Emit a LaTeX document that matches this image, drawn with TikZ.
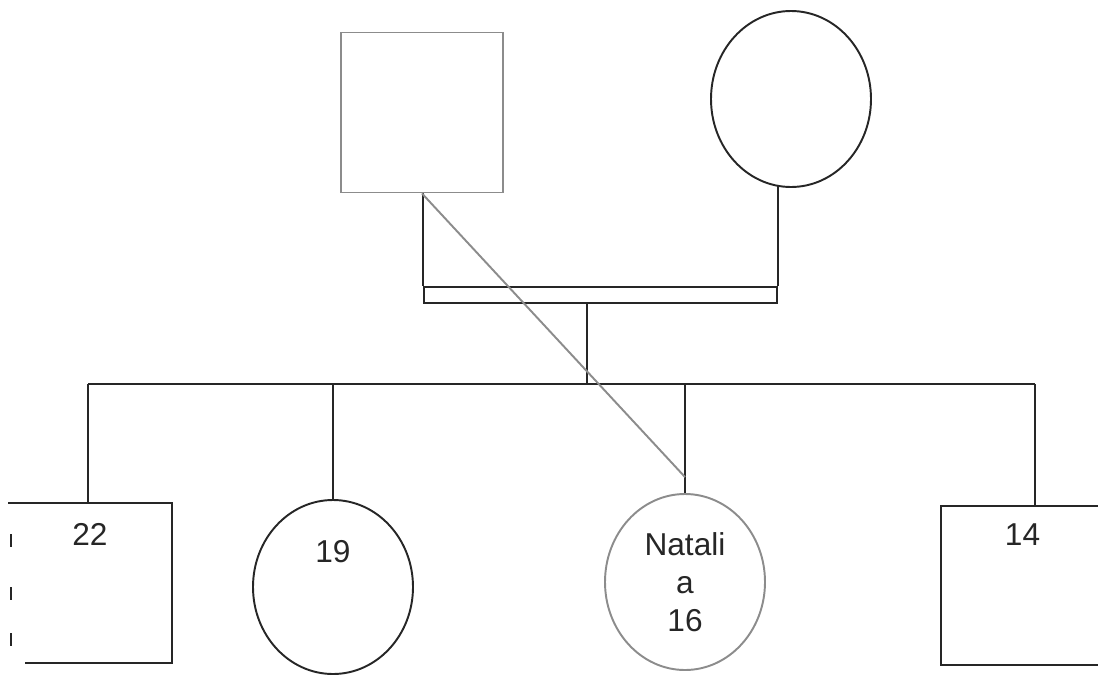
\documentclass[tikz,border=0pt]{standalone}
\usepackage{fontspec}
\setmainfont{Liberation Sans}
\usepackage{tikz}
\usetikzlibrary{positioning, calc, shapes.geometric}
\definecolor{inkline}{gray}{0.15}
\definecolor{paleline}{gray}{0.55}

\begin{document}
\begin{tikzpicture}[
  every node/.style={font=\fontsize{18}{21}\selectfont},
  male/.style={draw=inkline, line width=1.1pt, rectangle, minimum width=3.24cm, minimum height=3.2cm},
  female/.style={draw=inkline, line width=1.1pt, ellipse, minimum width=3.2cm, minimum height=3.5cm},
  ghost/.style={rectangle, minimum width=3.26cm, minimum height=3.18cm},
  pale/.style={draw=paleline},
  tie/.style={draw=inkline, line width=1.1pt},
  age/.style={inner sep=0pt, text=inkline}
]
  \clip (0,0) rectangle (21.96,-13.5);

  \node[male, pale] (dad) at (8.44,-2.25) {};
  \node[female, minimum height=3.52cm] (mom) at (15.82,-1.98) {};
  \node[tie, rectangle, minimum width=7.06cm, minimum height=0.33cm, inner sep=0pt] (bar) at (12.01,-5.9) {};

  \coordinate (drop) at (11.74,-7.68);
  \coordinate (sibL) at (1.76,-7.68);
  \coordinate (sibR) at (20.7,-7.68);

  \node[ghost] (son1) at (1.8,-11.66) {};
  \node[female, minimum height=3.48cm] (dau1) at (6.66,-11.74) {};
  \node[female, pale, minimum height=3.52cm, align=center, text=inkline,
        font=\fontsize{18}{21.5}\selectfont] (nat) at (13.7,-11.64) {Natali\\a\\16};
  \node[ghost] (son2) at (20.45,-11.71) {};

  \node[age] (a22) at ($(son1.north)+(0,-0.62)$) {22};
  \node[age] (a19) at ($(dau1.north)+(0,-1.06)$) {19};
  \node[age] (a14) at ($(son2.north)+(0,-0.58)$) {14};

  \draw[tie] (son1.north west) -- (son1.north east) -- (son1.south east) -- ([xshift=0.34cm]son1.south west);
  \foreach \y in {-10.68,-11.74,-12.66}
    \draw[tie] (0.22,\y) -- (0.22,\y-0.26);
  \draw[tie] (son2.north east) -- (son2.north west) -- (son2.south west) -- (son2.south east);

  \draw[tie] (bar.north west) -- (bar.north west |- dad.south);
  \draw[tie] (bar.north east) -- ($(bar.north east |- mom.south)+(0,0.04)$);
  \draw[tie] (drop |- bar.south) -- (drop);
  \draw[tie] (sibL) -- (sibR);
  \draw[tie] (sibL) -- (sibL |- son1.north);
  \draw[tie] (dau1.north |- sibL) -- (dau1.north);
  \draw[tie] (nat.north |- sibL) -- (nat.north);
  \draw[tie] (sibR) -- (sibR |- son2.north);
  \draw[line width=1.1pt, paleline] (dad.south) -- ($(nat.north)+(0,0.32)$);
\end{tikzpicture}
\end{document}
